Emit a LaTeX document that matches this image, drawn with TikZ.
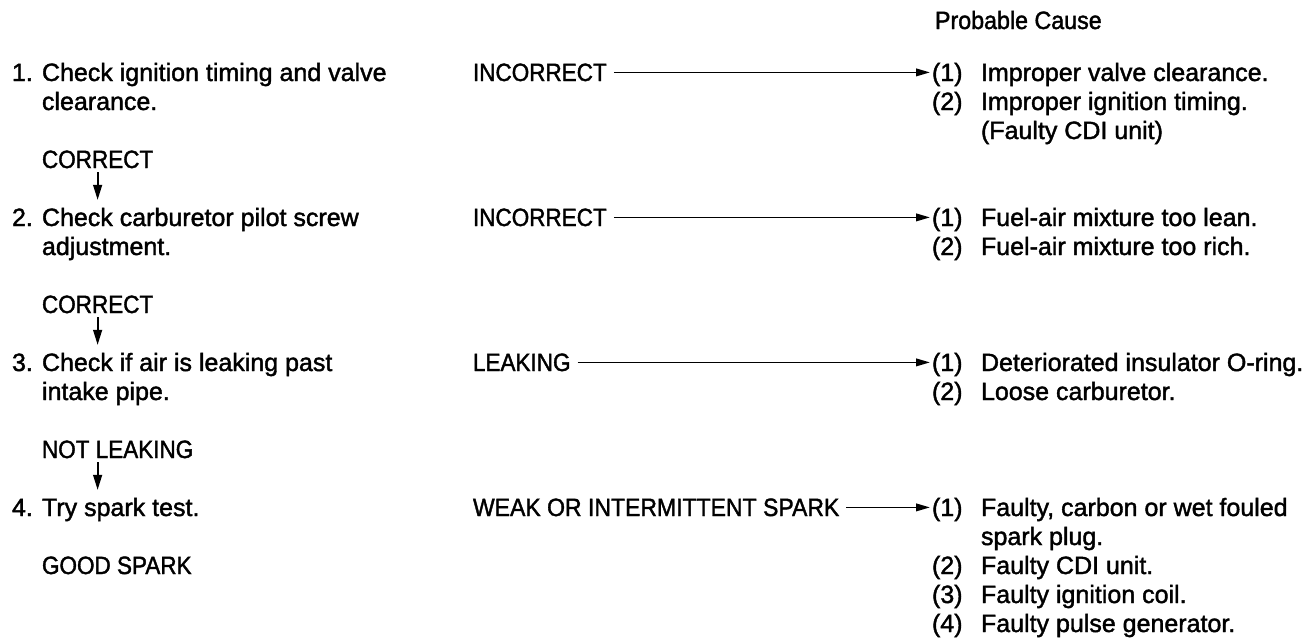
\documentclass[tikz,border=0pt]{standalone}
\usepackage{fontspec}
\setmainfont{Liberation Sans}[FakeBold=1.6]
\usetikzlibrary{arrows.meta}
\newcommand\cp[1]{\scalebox{0.9}[1]{#1}}
\begin{document}
\begin{tikzpicture}[x=0.5pt,y=-0.5pt,
  every node/.style={inner sep=0pt,outer sep=0pt,font=\fontsize{12.5}{14.6}\selectfont},
  txt/.style={anchor=base west},
  harrow/.style={line width=0.9pt,shorten <=3.5pt,shorten >=1pt,-{Triangle[length=7pt,width=3.8pt]}},
  varrow/.style={line width=0.9pt,shorten <=2pt,shorten >=4pt,-{Triangle[length=7.5pt,width=4.4pt]}}]
\path[use as bounding box] (0,0) rectangle (1312,639);

% header
\node[txt] (hdr) at (935,29) {\scalebox{0.93}[1]{Probable Cause}};

% step 1
\node[txt] (n1) at (12,81) {1.};
\node[txt] (s1a) at (42,81) {Check ignition timing and valve};
\node[txt] (s1b) at (42,110) {clearance.};
\node[txt] (ok1) at (42,168) {\cp{CORRECT}};
\node[txt] (i1) at (473,81) {\cp{INCORRECT}};
\node[txt] (p11) at (932,81) {(1)};
\node[txt] (c11) at (981,81) {Improper valve clearance.};
\node[txt] (p12) at (932,110) {(2)};
\node[txt] (c12) at (981,110) {Improper ignition timing.};
\node[txt] (c13) at (981,139) {(Faulty CDI unit)};

% step 2
\node[txt] (n2) at (12,226) {2.};
\node[txt] (s2a) at (42,226) {Check carburetor pilot screw};
\node[txt] (s2b) at (42,255) {adjustment.};
\node[txt] (ok2) at (42,313) {\cp{CORRECT}};
\node[txt] (i2) at (473,226) {\cp{INCORRECT}};
\node[txt] (p21) at (932,226) {(1)};
\node[txt] (c21) at (981,226) {Fuel-air mixture too lean.};
\node[txt] (p22) at (932,255) {(2)};
\node[txt] (c22) at (981,255) {Fuel-air mixture too rich.};

% step 3
\node[txt] (n3) at (12,371) {3.};
\node[txt] (s3a) at (42,371) {Check if air is leaking past};
\node[txt] (s3b) at (42,400) {intake pipe.};
\node[txt] (ok3) at (42,458) {\cp{NOT LEAKING}};
\node[txt] (i3) at (473,371) {\cp{LEAKING}};
\node[txt] (p31) at (932,371) {(1)};
\node[txt] (c31) at (981,371) {Deteriorated insulator O-ring.};
\node[txt] (p32) at (932,400) {(2)};
\node[txt] (c32) at (981,400) {Loose carburetor.};

% step 4
\node[txt] (n4) at (12,516) {4.};
\node[txt] (s4a) at (42,516) {Try spark test.};
\node[txt] (ok4) at (42,574) {\cp{GOOD SPARK}};
\node[txt] (i4) at (473,516) {\scalebox{0.92}[1]{WEAK OR INTERMITTENT SPARK}};
\node[txt] (p41) at (932,516) {(1)};
\node[txt] (c41) at (981,516) {Faulty, carbon or wet fouled};
\node[txt] (c41b) at (981,545) {spark plug.};
\node[txt] (p42) at (932,574) {(2)};
\node[txt] (c42) at (981,574) {Faulty CDI unit.};
\node[txt] (p43) at (932,603) {(3)};
\node[txt] (c43) at (981,603) {Faulty ignition coil.};
\node[txt] (p44) at (932,632) {(4)};
\node[txt] (c44) at (981,632) {Faulty pulse generator.};

% horizontal arrows
\draw[harrow] (i1.east) -- (i1.east -| p11.west);
\draw[harrow] (i2.east) -- (i2.east -| p21.west);
\draw[harrow] (i3.east) -- (i3.east -| p31.west);
\draw[harrow] (i4.east) -- (i4.east -| p41.west);

% vertical arrows
\draw[varrow] (ok1.south) -- (ok1.south |- s2a.north);
\draw[varrow] (ok2.south) -- (ok2.south |- s3a.north);
\draw[varrow] (ok3.south -| ok1.south) -- (ok1.south |- s4a.north);
\end{tikzpicture}
\end{document}
